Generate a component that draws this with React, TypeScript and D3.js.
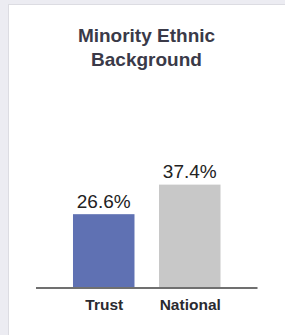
import React from 'react'
import { scaleBand, scaleLinear } from 'd3'

const width = 285
const height = 335

const titleLines = ['Minority Ethnic', 'Background']
const categories = ['Trust', 'National']
const values = [26.6, 37.4]
const barColors = ['#5f71b3', '#c8c8c8']

const xScale = scaleBand<string>()
  .domain(categories)
  .range([36, 257.5])
  .paddingInner(0.285)
  .paddingOuter(0.43)

const yScale = scaleLinear()
  .domain([0, 40])
  .range([287, 177.5])

function App() {
  const font = 'Arial, "Liberation Sans", sans-serif'
  return (
    <svg
      width={width}
      height={height}
      style={{ position: 'absolute', left: 0, top: 0 }}
    >
      <rect x={0} y={0} width={width} height={height} fill="#ececf2" />
      {/* card */}
      <rect x={8.5} y={4.5} width={width} height={height} fill="#ffffff" stroke="#dcdce2" />

      {titleLines.map((t, i) => (
        <text
          key={t}
          x={146.5}
          y={42 + i * 24}
          textAnchor="middle"
          fontFamily={font}
          fontWeight="bold"
          fontSize={19}
          fill="#3a3a48"
        >
          {t}
        </text>
      ))}

      {categories.map((c, i) => {
        const x = xScale(c) as number
        const y = yScale(values[i])
        return (
          <g key={c}>
            <rect
              x={x}
              y={y}
              width={xScale.bandwidth()}
              height={yScale(0) - y}
              fill={barColors[i]}
            />
            <text
              x={x + xScale.bandwidth() / 2}
              y={y - 6.5}
              textAnchor="middle"
              fontFamily={font}
              fontSize={19}
              fill="#222"
            >
              {values[i].toFixed(1)}%
            </text>
            <text
              x={x + xScale.bandwidth() / 2 + 0.5}
              y={310}
              textAnchor="middle"
              fontFamily={font}
              fontWeight="bold"
              fontSize={15.5}
              fill="#2a2a30"
            >
              {c}
            </text>
          </g>
        )
      })}

      <line
        x1={xScale.range()[0]}
        x2={xScale.range()[1]}
        y1={yScale(0) + 1}
        y2={yScale(0) + 1}
        stroke="#707070"
        strokeWidth={2}
      />
    </svg>
  )
}

export default App
